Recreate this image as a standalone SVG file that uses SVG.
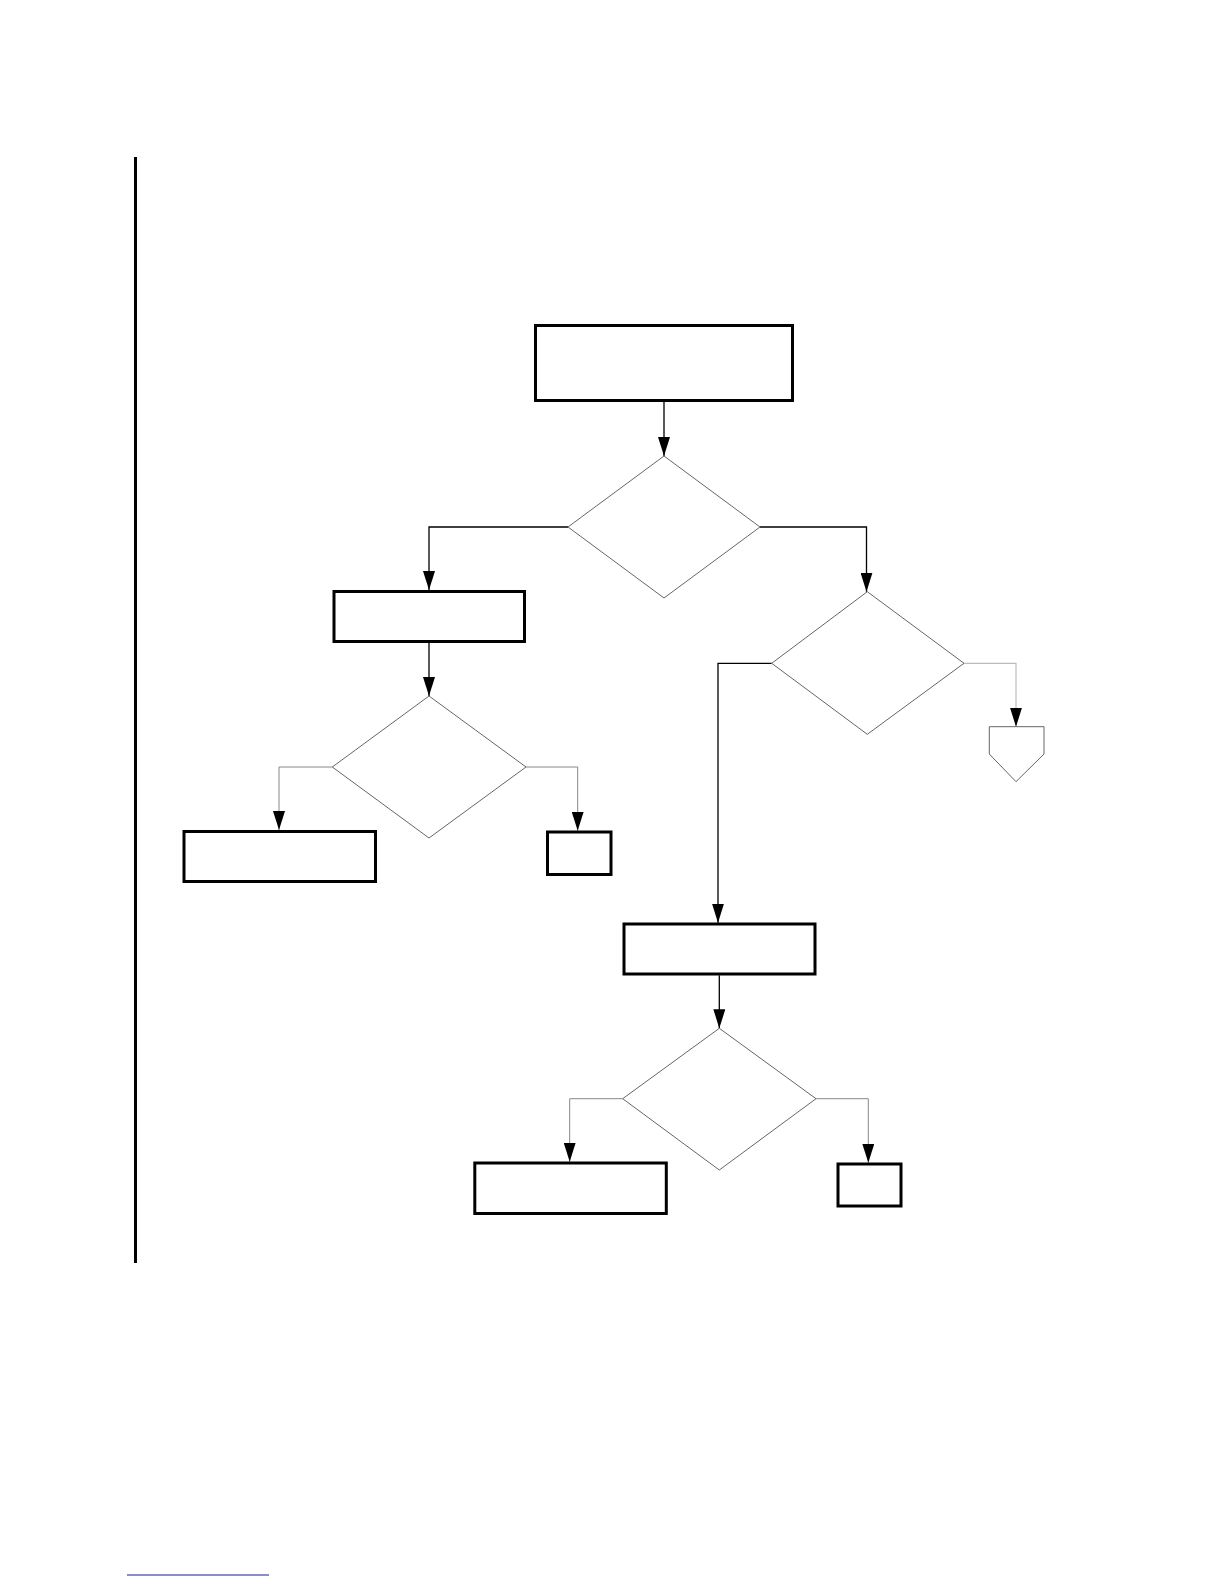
<svg xmlns="http://www.w3.org/2000/svg" width="1224" height="1584" viewBox="0 0 1224 1584">
<style>
.box{fill:#fff;stroke:#000;stroke-width:3}
.dia{fill:#fff;stroke:#666;stroke-width:1}
.c{fill:none;stroke:#000;stroke-width:1.3}
.cg{fill:none;stroke:#888;stroke-width:1}
.cl{fill:none;stroke:#bbb;stroke-width:1.2}
</style>
<defs>
<marker id="ah" markerUnits="userSpaceOnUse" markerWidth="19" markerHeight="12" viewBox="0 0 19 12" refX="19" refY="6" orient="auto">
<path d="M0,0 L19,6 L0,12 z" fill="#000"/>
</marker>
</defs>
<rect width="1224" height="1584" fill="#fff"/>
<line x1="135.5" y1="157" x2="135.5" y2="1263" stroke="#000" stroke-width="3"/>
<line x1="127" y1="1575" x2="269" y2="1575" stroke="#1a1a9a" stroke-width="1"/>
<g id="connectors">
<path class="c" d="M664,402 V456" marker-end="url(#ah)"/>
<path class="c" d="M568,527 H429 V590" marker-end="url(#ah)"/>
<path class="c" d="M760,527 H866.5 V591.7" marker-end="url(#ah)"/>
<path class="c" d="M429,643 V696" marker-end="url(#ah)"/>
<path class="cg" d="M332.3,767 H279 V830" marker-end="url(#ah)"/>
<path class="cg" d="M526,767 H577.7 V830.7" marker-end="url(#ah)"/>
<path class="c" d="M771.7,663.3 H718 V922.7" marker-end="url(#ah)"/>
<path class="cl" d="M964,663.3 H1016 V726.7" marker-end="url(#ah)"/>
<path class="c" d="M719.3,975.3 V1028.3" marker-end="url(#ah)"/>
<path class="cg" d="M622.7,1098.7 H569.7 V1161.7" marker-end="url(#ah)"/>
<path class="cg" d="M816,1098.7 H868.3 V1162.7" marker-end="url(#ah)"/>
</g>
<g id="n1"><rect class="box" x="535.5" y="325.5" width="257" height="75"/></g>
<g id="d1"><polygon class="dia" points="664,456 760,527 664,598 568,527"/></g>
<g id="n2"><rect class="box" x="334" y="591.5" width="190.5" height="50"/></g>
<g id="d2"><polygon class="dia" points="429,696 526,767 429,838 332.3,767"/></g>
<g id="n3"><rect class="box" x="184" y="831.5" width="191.5" height="50"/></g>
<g id="n4"><rect class="box" x="547.5" y="832" width="63.5" height="42.5"/></g>
<g id="d3"><polygon class="dia" points="867.3,591.7 964,663.3 867.3,734.3 771.7,663.3"/></g>
<g id="off"><polygon class="dia" points="989.3,726.7 1044,726.7 1044,754 1016,781.7 989.3,754"/></g>
<g id="n5"><rect class="box" x="624" y="924" width="191" height="50"/></g>
<g id="d4"><polygon class="dia" points="719.3,1028.3 816,1098.7 719.3,1170 622.7,1098.7"/></g>
<g id="n6"><rect class="box" x="474.8" y="1163" width="191.5" height="50.5"/></g>
<g id="n7"><rect class="box" x="838" y="1164" width="63" height="42"/></g>
</svg>
